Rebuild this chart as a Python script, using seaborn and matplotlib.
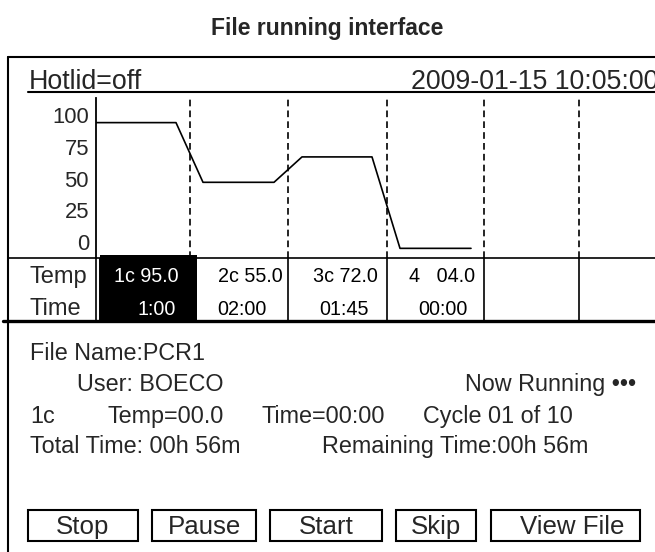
import numpy as np
import pandas as pd
import matplotlib
matplotlib.use("Agg")
import matplotlib.pyplot as plt
from matplotlib.patches import Rectangle
import seaborn as sns

sns.set_theme(style="white")
plt.rcParams["font.family"] = ["Liberation Sans", "DejaVu Sans"]

# temperature profile as drawn on the screen
step_temp = [94, 47, 67, -5]
# where each hold starts / ends along the screen (pixels from the left)
step_start = [96, 203, 302, 400]
step_end = [176, 274, 372, 471]

y_ticks = [0, 25, 50, 75, 100]
y_tick_labels = ["0", "25", "50", "75", "100"]

# table
col_edges = [96, 190, 288, 387, 484, 579, 655]
cell_temp = ["1c 95.0", "2c 55.0", "3c 72.0", "4   04.0"]
cell_time = ["1:00", "02:00", "01:45", "00:00"]
temp_x = [146, 250, 345, 442]
time_x = [157, 242, 344, 443]

header_left = "Hotlid=off"
header_right = "2009-01-15 10:05:00"

# status lines: (text, x, baseline y, align)
status = [
    ("File Name:PCR1", 30, 360, "left"),
    ("User: BOECO", 77, 391, "left"),
    ("Now Running \u2022\u2022\u2022", 636, 391, "right"),
    ("1c", 30, 423, "left"),
    ("Temp=00.0", 107, 423, "left"),
    ("Time=00:00", 262, 423, "left"),
    ("Cycle 01 of 10", 423, 423, "left"),
    ("Total Time: 00h 56m", 30, 453, "left"),
    ("Remaining Time:00h 56m", 322, 453, "left"),
]

buttons = ["Stop", "Pause", "Start", "Skip", "View File"]
btn_left = [28, 152, 270, 396, 491]
btn_right = [138, 256, 382, 476, 640]

W, H = 655, 552
fig = plt.figure(figsize=(W / 100, H / 100), dpi=100)
bg = fig.add_axes([0, 0, 1, 1])
bg.set_xlim(0, W)
bg.set_ylim(H, 0)
bg.axis("off")

bg.text(W / 2, 35, "File running interface", ha="center", va="baseline",
        fontsize=16.5, fontweight="bold")

# outer frame (top + left only, right side runs off the picture)
bg.plot([8, W], [57, 57], color="black", lw=1.5)
bg.plot([8, 8], [57, H], color="black", lw=1.5)

# header line
bg.text(29, 89, header_left, fontsize=19.3, va="baseline")
bg.text(411, 89, header_right, fontsize=19.3, va="baseline")
bg.plot([28, W], [92, 92], color="black", lw=1.5)

# chart
top, bottom = 98, 258
ax = fig.add_axes([96 / W, 1 - bottom / H, (W - 96) / W, (bottom - top) / H])
ax.patch.set_alpha(0)
y_px = 1.27  # pixels per degree on the screen
ax.set_ylim((242 - bottom) / y_px, (242 - top) / y_px)
ax.set_xlim(96, W)

xs, ys = [], []
for s, e, t in zip(step_start, step_end, step_temp):
    xs += [s, e]
    ys += [t, t]
profile = pd.DataFrame({"pos": xs, "temp": ys})
sns.lineplot(data=profile, x="pos", y="temp", ax=ax, color="black", lw=1.2,
             estimator=None, sort=False)

for c in col_edges[1:-1]:
    ax.axvline(c, color="black", lw=1.2, ls=(0, (4, 2.5)))

for side in ["top", "right", "bottom"]:
    ax.spines[side].set_visible(False)
ax.spines["left"].set_linewidth(1.3)
ax.spines["left"].set_color("black")
ax.set_yticks(y_ticks)
ax.set_yticklabels(y_tick_labels, fontsize=15.8)
ax.tick_params(axis="y", length=0, pad=5)
ax.set_xticks([])
ax.set_xlabel("")
ax.set_ylabel("")
ax.grid(False)

# table
bg.plot([8, W], [258, 258], color="black", lw=1.2)
bg.plot([3, W], [321, 321], color="black", lw=2.4)
for c in col_edges[:-1]:
    bg.plot([c, c], [258, 321], color="black", lw=1.2)
bg.plot([98.8, 98.8], [258, 321], color="black", lw=0.7)
bg.add_patch(Rectangle((100, 255), 97, 66, color="black", lw=0))
bg.text(29, 283, "Temp", fontsize=17, va="baseline")
bg.text(29, 315, "Time", fontsize=17, va="baseline")
for i, (tt, tm) in enumerate(zip(cell_temp, cell_time)):
    col = "white" if i == 0 else "black"
    bg.text(temp_x[i], 282, tt, fontsize=14.2, ha="center", va="baseline", color=col)
    bg.text(time_x[i], 315, tm, fontsize=14.2, ha="center", va="baseline", color=col)

# status text
for txt, x, y, ha in status:
    bg.text(x, y, txt, fontsize=16.8, ha=ha, va="baseline")

# buttons
for name, l, r in zip(buttons, btn_left, btn_right):
    bg.add_patch(Rectangle((l, 510), r - l, 31, fill=False, ec="black", lw=1.5))
    bg.text((l + r) / 2 + (7 if name == "View File" else 0), 534, name,
            fontsize=18.6, ha="center", va="baseline")

fig.savefig("out.png", dpi=100)
